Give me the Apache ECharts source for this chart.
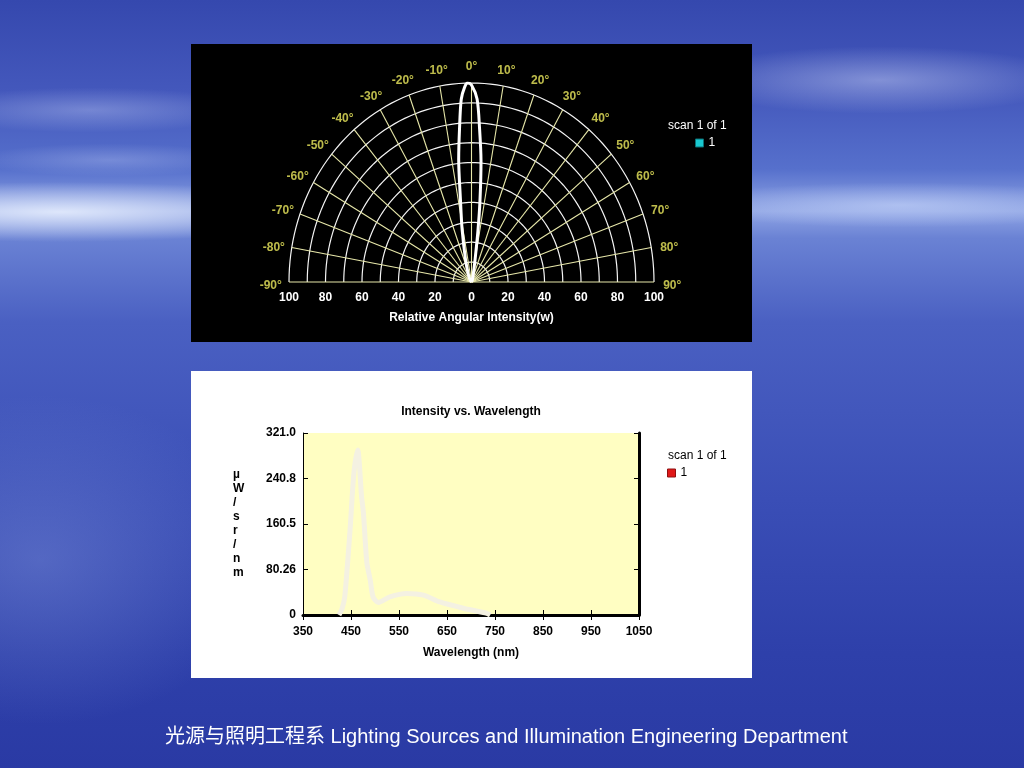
<!DOCTYPE html>
<html>
<head>
<meta charset="utf-8">
<script src="https://cdn.jsdelivr.net/npm/echarts@6/dist/echarts.min.js"></script>
<style>
html,body{margin:0;padding:0;}
body{width:1024px;height:768px;overflow:hidden;position:relative;
background:
 radial-gradient(ellipse 380px 40px at 60px 212px, rgba(235,242,255,0.85), rgba(235,242,255,0) 75%),
 radial-gradient(ellipse 300px 30px at 900px 205px, rgba(200,215,250,0.6), rgba(200,215,250,0) 75%),
 radial-gradient(ellipse 260px 45px at 880px 80px, rgba(225,232,255,0.4), rgba(225,232,255,0) 75%),
 radial-gradient(ellipse 220px 30px at 90px 110px, rgba(220,228,255,0.3), rgba(220,228,255,0) 75%),
 radial-gradient(ellipse 180px 22px at 110px 160px, rgba(220,228,255,0.25), rgba(220,228,255,0) 75%),
 radial-gradient(ellipse 300px 220px at 40px 560px, rgba(130,150,220,0.4), rgba(130,150,220,0) 75%),
 linear-gradient(to bottom,#3548ae 0%,#4458bc 12%,#5670cc 22%,#8fa4e4 27.5%,#6a82d4 31%,#4a60c2 42%,#3a4eb6 65%,#2e40aa 85%,#2a3aa4 100%);}
#p1{position:absolute;left:191px;top:44px;width:561px;height:298px;background:#000;}
#p2{position:absolute;left:191px;top:371px;width:561px;height:307px;background:#fff;}
#chart{position:absolute;left:0;top:0;width:1024px;height:768px;}
</style>
</head>
<body>
<div id="p1"></div>
<div id="p2"></div>
<div id="chart"></div>
<script>
// ---- Polar (angular intensity) data ----
const beamAngles    = [-90, -40, -25, -16, -11, -8.3, -6.5, -4.9, -3.5, -2.2, -1.2, 0, 1.9, 3.3, 4.9, 6.5, 7.8, 10, 14, 25, 90];
const beamIntensity = [0,   1,   4,   12,  27,  42,   62,   77,   92,   98,   100,  99, 92, 77, 61, 41, 26, 11, 4, 1, 0];
const ringValues  = [10, 20, 30, 40, 50, 60, 70, 80, 90, 100];
const spokeAngles = [-90, -80, -70, -60, -50, -40, -30, -20, -10, 0, 10, 20, 30, 40, 50, 60, 70, 80, 90];
const angleTickLabels = ['-90°','-80°','-70°','-60°','-50°','-40°','-30°','-20°','-10°','0°','10°','20°','30°','40°','50°','60°','70°','80°','90°'];

// ---- Spectrum data ----
const wavelengths = [425, 431, 437, 448, 456, 464, 472, 476, 483, 490, 496, 507, 531, 566, 601, 635, 684, 733, 740];
const spectrum    = [0,   10,  32,  150, 250, 291, 209, 179, 92,  62,  32,  22,  32,  38,  35,  23,  12,  3,   0];
const yTickLabels = ['0', '80.26', '160.5', '240.8', '321.0'];

const rad = d => d * Math.PI / 180;
const beamXY = beamAngles.map((a, i) => [beamIntensity[i] * Math.sin(rad(a)), beamIntensity[i] * Math.cos(rad(a))]);
const labelR = 110;
const angleLabelXY = spokeAngles.map(a => [labelR * Math.sin(rad(a)), labelR * Math.cos(rad(a))]);

const boldFont = {fontFamily: 'Liberation Sans, Arial, sans-serif', fontWeight: 'bold', fontSize: 12};

const chart = echarts.init(document.getElementById('chart'), null, {renderer: 'canvas'});
chart.setOption({
  backgroundColor: 'transparent',
  animation: false,
  title: [
    {text: 'scan 1 of 1', left: 668, top: 120, padding: 0,
     textStyle: Object.assign({}, boldFont, {color: '#ffffff', fontWeight: 'normal'})},
    {text: 'Intensity vs. Wavelength', left: 471, top: 406, padding: 0, textAlign: 'center',
     textStyle: Object.assign({}, boldFont, {color: '#000000'})},
    {text: 'scan 1 of 1', left: 668, top: 450, padding: 0,
     textStyle: Object.assign({}, boldFont, {color: '#000000', fontWeight: 'normal'})},
    {text: '光源与照明工程系 Lighting Sources and Illumination Engineering Department', left: 165, top: 727, padding: 0,
     textStyle: {color: '#ffffff', fontSize: 20, fontWeight: 'normal',
       fontFamily: 'Liberation Sans, Arial, Noto Sans CJK SC, sans-serif'}}
  ],
  legend: [
    {data: [{name: '1', icon: 'rect', itemStyle: {color: '#19c8d0', borderColor: '#0a6f74', borderWidth: 1}}],
     left: 695, top: 137, padding: 0, itemWidth: 8, itemHeight: 8, selectedMode: false,
     textStyle: Object.assign({}, boldFont, {color: '#ffffff', fontWeight: 'normal'})},
    {data: [{name: '1', icon: 'rect', itemStyle: {color: '#e01818', borderColor: '#901010', borderWidth: 1}}],
     left: 667, top: 467, padding: 0, itemWidth: 8, itemHeight: 8, selectedMode: false,
     textStyle: Object.assign({}, boldFont, {color: '#000000', fontWeight: 'normal'})}
  ],
  grid: [
    {left: 289, top: 83, width: 365, height: 199, show: false},
    {left: 303, top: 433, width: 336, height: 182, show: true, backgroundColor: '#fffec2', borderWidth: 0}
  ],
  xAxis: [
    {gridIndex: 0, type: 'value', min: -100, max: 100, interval: 20,
     axisLine: {show: false}, axisTick: {show: false}, splitLine: {show: false},
     axisLabel: Object.assign({}, boldFont, {color: '#ffffff', margin: 10, formatter: v => String(Math.abs(v))}),
     name: 'Relative Angular Intensity(w)', nameLocation: 'middle', nameGap: 30,
     nameTextStyle: Object.assign({}, boldFont, {color: '#ffffff'})},
    {gridIndex: 1, type: 'value', min: 350, max: 1050, interval: 100, position: 'bottom',
     axisLine: {show: true, lineStyle: {color: '#000', width: 3}},
     axisTick: {show: true, inside: true, length: 5, lineStyle: {color: '#000', width: 1}},
     splitLine: {show: false},
     axisLabel: Object.assign({}, boldFont, {color: '#000000', margin: 11, formatter: v => String(v)}),
     name: 'Wavelength (nm)', nameLocation: 'middle', nameGap: 32,
     nameTextStyle: Object.assign({}, boldFont, {color: '#000000'})},
    {gridIndex: 1, type: 'value', min: 350, max: 1050, interval: 100, position: 'top',
     axisLine: {show: true, lineStyle: {color: '#000', width: 1}},
     axisTick: {show: true, inside: true, length: 5, lineStyle: {color: '#000', width: 1}},
     splitLine: {show: false}, axisLabel: {show: false}}
  ],
  yAxis: [
    {gridIndex: 0, type: 'value', min: 0, max: 100, show: false, splitLine: {show: false}},
    {gridIndex: 1, type: 'value', min: 0, max: 321.04, interval: 80.26, position: 'left',
     axisLine: {show: true, lineStyle: {color: '#000', width: 1}},
     axisTick: {show: true, inside: true, length: 5, lineStyle: {color: '#000', width: 1}},
     splitLine: {show: false},
     axisLabel: Object.assign({}, boldFont, {color: '#000000', margin: 7, formatter: (v, i) => yTickLabels[i]}),
     name: 'µ\nW\n/\ns\nr\n/\nn\nm', nameLocation: 'middle', nameRotate: 0, nameGap: 70,
     nameTextStyle: Object.assign({}, boldFont, {color: '#000000', align: 'left', verticalAlign: 'middle', lineHeight: 14})},
    {gridIndex: 1, type: 'value', min: 0, max: 321.04, interval: 80.26, position: 'right',
     axisLine: {show: true, lineStyle: {color: '#000', width: 3}},
     axisTick: {show: true, inside: true, length: 5, lineStyle: {color: '#000', width: 1}},
     splitLine: {show: false}, axisLabel: {show: false}}
  ],
  series: [
    {type: 'custom', name: 'rings', xAxisIndex: 0, yAxisIndex: 0, silent: true, clip: false, z: 1,
     data: ringValues.map(r => [r, 0]),
     renderItem: function (params, api) {
       const r = api.value(0);
       const pts = [];
       for (let a = -90; a <= 90; a += 2) pts.push(api.coord([r * Math.sin(rad(a)), r * Math.cos(rad(a))]));
       return {type: 'polyline', shape: {points: pts}, style: {stroke: '#f4f4f4', lineWidth: 1.2, fill: null}};
     }},
    {type: 'custom', name: 'spokes', xAxisIndex: 0, yAxisIndex: 0, silent: true, clip: false, z: 1,
     data: spokeAngles.map(a => [a, 0]),
     renderItem: function (params, api) {
       const a = api.value(0);
       const p0 = api.coord([0, 0]);
       const p1 = api.coord([100 * Math.sin(rad(a)), 100 * Math.cos(rad(a))]);
       return {type: 'line', shape: {x1: p0[0], y1: p0[1], x2: p1[0], y2: p1[1]}, style: {stroke: '#e8e8aa', lineWidth: 1.1}};
     }},
    {type: 'scatter', name: 'angleLabels', xAxisIndex: 0, yAxisIndex: 0, silent: true, clip: false, z: 3,
     data: angleLabelXY, symbolSize: 1, itemStyle: {color: 'rgba(0,0,0,0)'},
     labelLayout: {hideOverlap: false, dy: 4},
     label: Object.assign({show: true, position: 'inside', color: '#ecea5e', formatter: p => angleTickLabels[p.dataIndex]}, boldFont)},
    {type: 'line', name: '1', xAxisIndex: 0, yAxisIndex: 0, data: beamXY, symbol: 'none', smooth: 0.3, z: 4,
     lineStyle: {color: '#ffffff', width: 3}, itemStyle: {color: '#ffffff'}},
    {type: 'line', name: '1', xAxisIndex: 1, yAxisIndex: 1, data: wavelengths.map((w, i) => [w, spectrum[i]]),
     symbol: 'none', smooth: 0.25, z: 4,
     lineStyle: {color: '#f4f1e2', width: 5}, itemStyle: {color: '#f4f1e2'}}
  ]
});
</script>
</body>
</html>
